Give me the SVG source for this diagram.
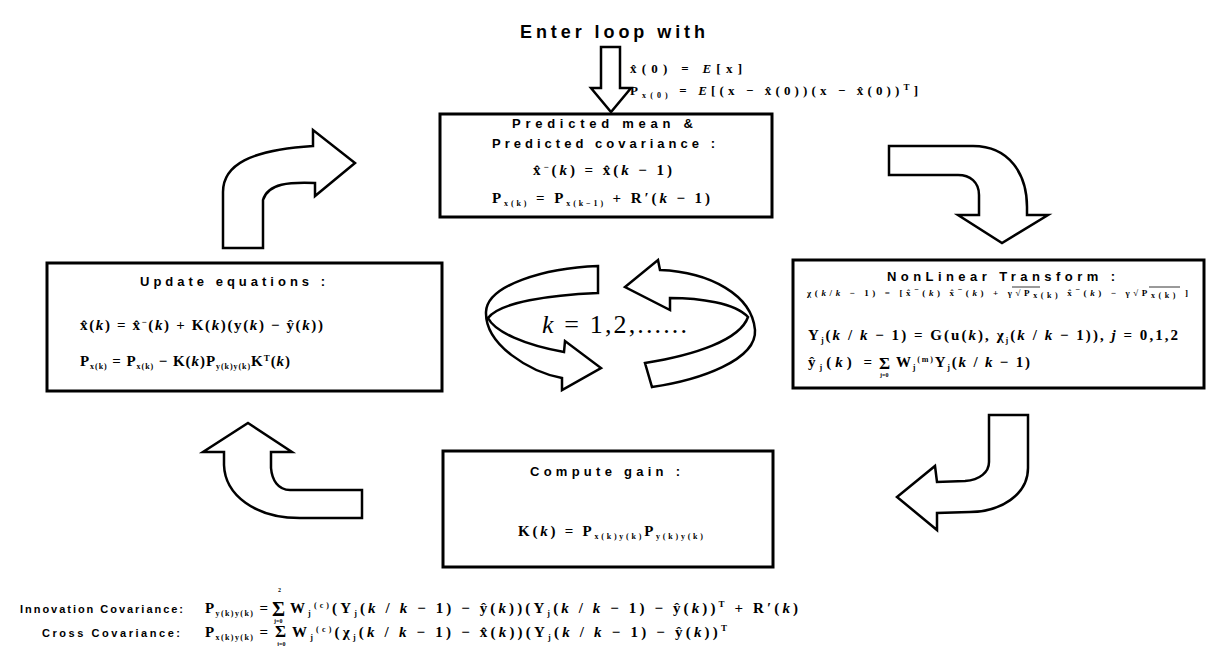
<svg xmlns="http://www.w3.org/2000/svg" width="1230" height="646" viewBox="0 0 1230 646">
<style>
.box{fill:#fff;stroke:#000;stroke-width:3}
.arr{fill:#fff;stroke:#000;stroke-width:2.5;stroke-linejoin:miter}
.t{font-family:"Liberation Sans",Arial,sans-serif;font-weight:bold;font-size:13px;fill:#000}
.m{font-family:"Liberation Serif","DejaVu Serif",serif;font-weight:bold;font-size:15px;fill:#000}
.i{font-style:italic}
.sb{font-size:8px}
.sp{font-size:9px}
.sg{font-family:"Liberation Serif","DejaVu Serif",serif;font-weight:bold;font-size:20px;fill:#000}
.lim{font-family:"Liberation Serif",serif;font-weight:bold;font-size:6px;fill:#000}
.ol{stroke:#000;stroke-width:0.8;fill:none}
</style>
<rect width="1230" height="646" fill="#fff"/>

<g id="connectors">
  <path class="arr" d="M601,47 L620,47 L620,88 L631,88 L611,112 L591,88 L601,88 Z"/>
  <path class="arr" d="M223,248 L223,192 C223,165 250,150 313,146 L313,130 L355,163 L315,196 L315,183 C290,182 268,183 263,200 L263,248 Z"/>
  <path class="arr" d="M889,146 L973,146 C1010,146 1027,175 1027,207 L1027,215 L1048,215 L1002,243 L958,215 L979,215 L979,195 C979,182 970,175 958,175 L889,175 Z"/>
  <path class="arr" d="M989,415 L1028,415 L1028,468 C1028,495 1000,512 970,512 L937,513 L937,530 L897,497 L935,466 L937,482 L965,481 C980,480 989,472 989,462 Z"/>
  <path class="arr" d="M248,423 L292,452 L271,452 L271,468 C272,480 278,490 290,490 L362,490 L362,518 L300,518 C255,518 225,495 224,465 L224,452 L203,452 Z"/>
</g>

<g id="enter">
  <text class="t" x="520" y="38" style="font-size:18px" textLength="185">Enter loop with</text>
  <text class="m" x="630" y="73" style="font-size:13px" textLength="112">x̂(0) = <tspan class="i">E</tspan>[x]</text>
  <text class="m" x="630" y="95" style="font-size:13px" textLength="288">P<tspan class="sb" baseline-shift="-3">x(0)</tspan> = <tspan class="i">E</tspan>[(x − x̂(0))(x − x̂(0))<tspan class="sp" baseline-shift="5">T</tspan>]</text>
</g>

<g id="predict">
  <rect class="box" x="440" y="114" width="332" height="103"/>
  <text class="t" x="512" y="128" textLength="181">Predicted mean &amp;</text>
  <text class="t" x="492" y="148" textLength="223">Predicted covariance :</text>
  <text class="m" x="533" y="175" textLength="139">x̂<tspan class="sp" baseline-shift="5">−</tspan>(<tspan class="i">k</tspan>) = x̂(<tspan class="i">k</tspan> − 1)</text>
  <text class="m" x="492" y="203" textLength="218">P<tspan class="sb" baseline-shift="-3">x(k)</tspan> = P<tspan class="sb" baseline-shift="-3">x(k−1)</tspan> + R′(<tspan class="i">k</tspan> − 1)</text>
</g>

<g id="update">
  <rect class="box" x="47" y="263" width="395" height="128"/>
  <text class="t" x="140" y="286" textLength="185">Update equations :</text>
  <text class="m" x="80" y="330" textLength="243">x̂(<tspan class="i">k</tspan>) = x̂<tspan class="sp" baseline-shift="5">−</tspan>(<tspan class="i">k</tspan>) + K(<tspan class="i">k</tspan>)(y(<tspan class="i">k</tspan>) − ŷ(<tspan class="i">k</tspan>))</text>
  <text class="m" x="80" y="366" textLength="210">P<tspan class="sb" baseline-shift="-3">x(k)</tspan> = P<tspan class="sb" baseline-shift="-3">x(k)</tspan> − K(<tspan class="i">k</tspan>)P<tspan class="sb" baseline-shift="-3">y(k)y(k)</tspan>K<tspan class="sp" baseline-shift="5">T</tspan>(<tspan class="i">k</tspan>)</text>
</g>

<g id="nonlinear">
  <rect class="box" x="793" y="260" width="411" height="128"/>
  <text class="t" x="887" y="281" textLength="228">NonLinear Transform :</text>
  <text class="m" x="807" y="296" style="font-size:9px" textLength="381">χ(<tspan class="i">k</tspan>/<tspan class="i">k</tspan> − 1) = [x̂<tspan class="sb" baseline-shift="4">−</tspan>(<tspan class="i">k</tspan>) x̂<tspan class="sb" baseline-shift="4">−</tspan>(<tspan class="i">k</tspan>) + γ√P<tspan class="sb" baseline-shift="-2">x(k)</tspan>   x̂<tspan class="sb" baseline-shift="4">−</tspan>(<tspan class="i">k</tspan>) − γ√P<tspan class="sb" baseline-shift="-2">x(k)</tspan>     ]</text>
  <path class="ol" d="M1012,287 H1040 M1149,287 H1180"/>
  <text class="m" x="808" y="340" textLength="370">Y<tspan class="sb" baseline-shift="-3">j</tspan>(<tspan class="i">k</tspan> / <tspan class="i">k</tspan> − 1) = G(u(<tspan class="i">k</tspan>), χ<tspan class="sb" baseline-shift="-3">j</tspan>(<tspan class="i">k</tspan> / <tspan class="i">k</tspan> − 1)), <tspan class="i">j</tspan> = 0,1,2</text>
  <text class="m" x="808" y="367" textLength="64">ŷ<tspan class="sb" baseline-shift="-3">j</tspan>(<tspan class="i">k</tspan>) =</text>
  <text class="sg" x="879" y="369" style="font-size:17px">Σ</text>
  <text class="lim" x="880" y="377">j=0</text>
  <text class="m" x="896" y="367" textLength="134">W<tspan class="sb" baseline-shift="-3">j</tspan><tspan class="sb" baseline-shift="5">(m)</tspan>Y<tspan class="sb" baseline-shift="-3">j</tspan>(<tspan class="i">k</tspan> / <tspan class="i">k</tspan> − 1)</text>
</g>

<g id="gain">
  <rect class="box" x="443" y="451" width="330" height="116"/>
  <text class="t" x="530" y="476" textLength="150">Compute gain :</text>
  <text class="m" x="518" y="536" textLength="185">K(<tspan class="i">k</tspan>) = P<tspan class="sb" baseline-shift="-3">x(k)y(k)</tspan>P<tspan class="sb" baseline-shift="-3">y(k)y(k)</tspan></text>
</g>

<g id="loop">
  <path class="arr" d="M598,266 C545,268 487,285 486,312 C485,345 530,372 562,378 L562,390 L601,368 L565,341 L564,352 C525,345 495,332 488,318 C500,302 550,295 598,293 Z"/>
  <path class="arr" d="M660,270 C710,272 752,295 755,330 C757,360 700,380 652,387 L645,363 C695,355 740,340 748,317 C735,303 700,298 670,298 L670,310 L625,287 L658,260 Z"/>
  <text x="542" y="333" style="font-family:'Liberation Serif',serif;font-size:26px" textLength="145"><tspan class="i">k</tspan> = 1,2,......</text>
</g>

<g id="covariances">
  <text class="t" x="20" y="613" style="font-size:11px" textLength="163">Innovation Covariance:</text>
  <text class="m" x="205" y="613" textLength="63">P<tspan class="sb" baseline-shift="-3">y(k)y(k)</tspan> =</text>
  <text class="sg" x="272" y="616">Σ</text>
  <text class="lim" x="278" y="592">2</text>
  <text class="lim" x="274" y="623">j=0</text>
  <text class="m" x="290" y="613" textLength="508">W<tspan class="sb" baseline-shift="-3">j</tspan><tspan class="sb" baseline-shift="5">(c)</tspan>(Y<tspan class="sb" baseline-shift="-3">j</tspan>(<tspan class="i">k</tspan> / <tspan class="i">k</tspan> − 1) − ŷ(<tspan class="i">k</tspan>))(Y<tspan class="sb" baseline-shift="-3">j</tspan>(<tspan class="i">k</tspan> / <tspan class="i">k</tspan> − 1) − ŷ(<tspan class="i">k</tspan>))<tspan class="sp" baseline-shift="6">T</tspan> + R′(<tspan class="i">k</tspan>)</text>
  <text class="t" x="42" y="637" style="font-size:11px" textLength="138">Cross Covariance:</text>
  <text class="m" x="205" y="637" textLength="63">P<tspan class="sb" baseline-shift="-3">x(k)y(k)</tspan> =</text>
  <text class="sg" x="275" y="637" style="font-size:17px">Σ</text>
  <text class="lim" x="277" y="646">j=0</text>
  <text class="m" x="292" y="637" textLength="435">W<tspan class="sb" baseline-shift="-3">j</tspan><tspan class="sb" baseline-shift="5">(c)</tspan>(χ<tspan class="sb" baseline-shift="-3">j</tspan>(<tspan class="i">k</tspan> / <tspan class="i">k</tspan> − 1) − x̂(<tspan class="i">k</tspan>))(Y<tspan class="sb" baseline-shift="-3">j</tspan>(<tspan class="i">k</tspan> / <tspan class="i">k</tspan> − 1) − ŷ(<tspan class="i">k</tspan>))<tspan class="sp" baseline-shift="6">T</tspan></text>
</g>
</svg>
